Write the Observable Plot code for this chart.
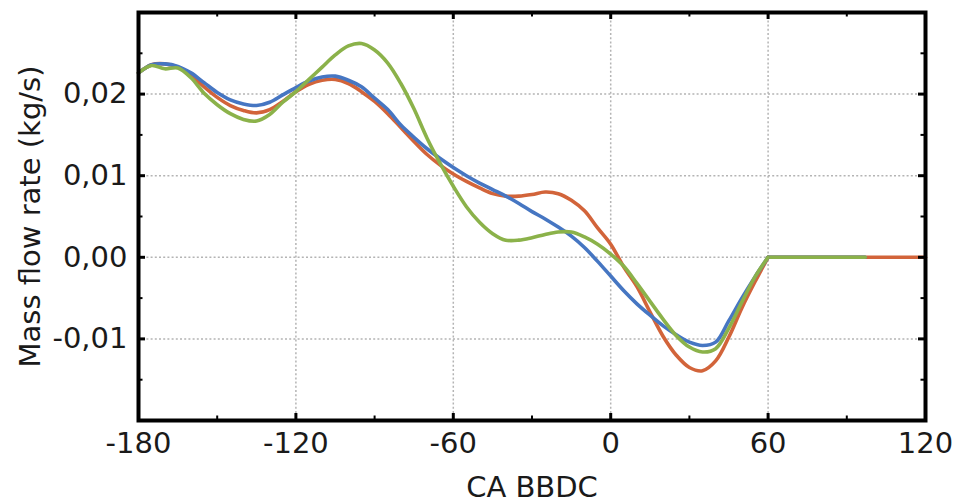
<!DOCTYPE html>
<html><head><meta charset="utf-8">
<script src="https://cdn.jsdelivr.net/npm/d3@7"></script>
<script src="https://cdn.jsdelivr.net/npm/@observablehq/plot@0.6"></script>
<style>body{margin:0;background:#fff} svg{overflow:visible}</style>
</head><body><div id="chart"></div>
<script>
// crank angle (deg) grid shared by the three curves
const angles = [-180,-175,-170,-165,-160,-155,-150,-145,-140,-135,-130,-125,-120,-115,-110,-105,-100,-95,-90,-85,-80,-75,-70,-65,-60,-55,-50,-45,-40,-35,-30,-25,-20,-15,-10,-5,0,5,10,15,20,25,30,35,40,45,50,55,60];
const orangeValues = [0.0226,0.0236,0.0237,0.0233,0.0223,0.0209,0.0196,0.0186,0.0180,0.0177,0.0181,0.0191,0.0203,0.0212,0.0217,0.0218,0.0213,0.0203,0.0191,0.0176,0.0159,0.0142,0.0126,0.0113,0.0102,0.0093,0.0085,0.0078,0.0075,0.0075,0.0077,0.0080,0.0078,0.0070,0.0057,0.0036,0.0016,-0.0012,-0.0036,-0.0067,-0.0097,-0.0120,-0.0135,-0.0139,-0.0127,-0.0098,-0.0062,-0.0030,0];
const blueValues = [0.0226,0.0236,0.0237,0.0234,0.0226,0.0214,0.0202,0.0193,0.0188,0.0186,0.0190,0.0199,0.0208,0.0216,0.0221,0.0222,0.0217,0.0209,0.0195,0.0181,0.0162,0.0147,0.0133,0.0121,0.0110,0.0100,0.0091,0.0083,0.0075,0.0066,0.0056,0.0047,0.0037,0.0026,0.0012,-0.0005,-0.0023,-0.0041,-0.0057,-0.0071,-0.0084,-0.0095,-0.0104,-0.0108,-0.0104,-0.0078,-0.0050,-0.0024,0];
const greenValues = [0.0226,0.0235,0.0231,0.0232,0.0220,0.0201,0.0187,0.0176,0.0169,0.0167,0.0175,0.0190,0.0203,0.0218,0.0233,0.0248,0.0259,0.0262,0.0254,0.0238,0.0213,0.0182,0.0146,0.0115,0.0087,0.0062,0.0043,0.0029,0.0021,0.0021,0.0024,0.0028,0.0031,0.0031,0.0025,0.0016,0.0004,-0.0011,-0.0032,-0.0054,-0.0076,-0.0096,-0.0110,-0.0116,-0.0112,-0.0087,-0.0055,-0.0024,0];

const seriesNames = ["Case A", "Case B", "Case C"];
const seriesColors = ["#D2643A", "#4676C2", "#8BB24A"];
const seriesFlatEnd = [120, 97, 97];   // last angle of the zero plateau
const seriesFlatValue = [0, 0, 0];

const xMajorTicks = [-180, -120, -60, 0, 60, 120];
const xMinorTicks = [-150, -90, -30, 30, 90];
const xGridTicks = [-120, -60, 0, 60];
const yMajorTicks = [-0.01, 0, 0.01, 0.02];
const yMinorTicks = [-0.015, -0.005, 0.005, 0.015, 0.025];

const valueSets = [orangeValues, blueValues, greenValues];
const curveRows = [], flatRows = [];
seriesNames.forEach((s, k) => {
  angles.forEach((a, i) => curveRows.push({series: s, angle: a, value: valueSets[k][i]}));
  flatRows.push({series: s, angle: angles[angles.length - 1], value: valueSets[k][angles.length - 1]});
  flatRows.push({series: s, angle: seriesFlatEnd[k], value: seriesFlatValue[k]});
});

const W = 955, H = 503, ML = 138, MR = 30, MT = 12, MB = 83;
const plotW = W - ML - MR, plotH = H - MT - MB;
const majorLen = 7, minorLen = 4.5;

const fmtY = d => d.toFixed(2).replace(".", ",");
const font = "'DejaVu Sans', sans-serif";
const gridStyle = {stroke: "#b4b4b4", strokeOpacity: 1, strokeWidth: 1.5, strokeDasharray: "2,2.2"};
const lineStyle = {x: "angle", y: "value", z: "series", stroke: "series", strokeWidth: 3.6};

const chart = Plot.plot({
  width: W, height: H,
  marginLeft: ML, marginRight: MR, marginTop: MT, marginBottom: MB,
  style: {fontFamily: font, fontSize: "29px", color: "#1a1a1a", background: "#fff"},
  x: {domain: [-180, 120]},
  y: {domain: [-0.02, 0.03]},
  color: {type: "categorical", domain: seriesNames, range: seriesColors},
  marks: [
    Plot.gridX(xGridTicks, gridStyle),
    Plot.gridY(yMajorTicks, gridStyle),
    Plot.lineY(flatRows, {...lineStyle, curve: "linear"}),
    Plot.lineY(curveRows, {...lineStyle, curve: "catmull-rom"}),
    // inward tick marks on all four sides
    Plot.tickX(xMajorTicks, {x: d => d, stroke: "#000", strokeWidth: 3, insetTop: plotH - majorLen}),
    Plot.tickX(xMinorTicks, {x: d => d, stroke: "#000", strokeWidth: 2, insetTop: plotH - minorLen}),
    Plot.tickX(xMajorTicks, {x: d => d, stroke: "#000", strokeWidth: 3, insetBottom: plotH - majorLen}),
    Plot.tickX(xMinorTicks, {x: d => d, stroke: "#000", strokeWidth: 2, insetBottom: plotH - minorLen}),
    Plot.tickY(yMajorTicks, {y: d => d, stroke: "#000", strokeWidth: 3, insetRight: plotW - majorLen}),
    Plot.tickY(yMinorTicks, {y: d => d, stroke: "#000", strokeWidth: 2, insetRight: plotW - minorLen}),
    Plot.tickY(yMajorTicks, {y: d => d, stroke: "#000", strokeWidth: 3, insetLeft: plotW - majorLen}),
    Plot.tickY(yMinorTicks, {y: d => d, stroke: "#000", strokeWidth: 2, insetLeft: plotW - minorLen}),
    Plot.frame({stroke: "#000", strokeWidth: 4}),
    // labels
    Plot.axisX(xMajorTicks, {anchor: "bottom", tickSize: 0, tickPadding: 12, fontSize: 29, tickFormat: d => String(d),
      label: "CA BBDC", labelAnchor: "center", labelOffset: 76, labelArrow: "none"}),
    Plot.axisY(yMajorTicks, {anchor: "left", tickSize: 0, tickPadding: 11, fontSize: 29, tickFormat: fmtY,
      label: "Mass flow rate (kg/s)", labelAnchor: "center", labelOffset: 119, labelArrow: "none"})
  ]
});
document.getElementById("chart").appendChild(chart);
</script>
</body></html>
